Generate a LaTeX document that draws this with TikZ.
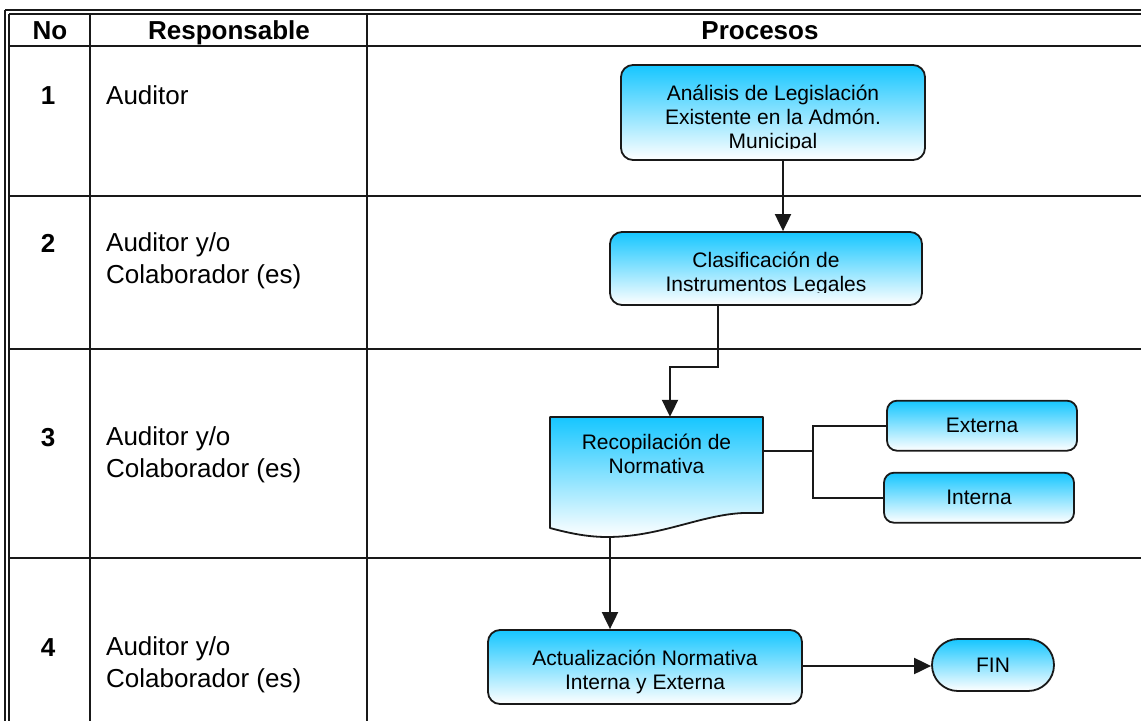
\documentclass[tikz,border=0pt]{standalone}
\usepackage{fontspec}
\setmainfont{Liberation Sans}
\usetikzlibrary{arrows.meta}

\definecolor{boxtop}{RGB}{22,198,255}
\definecolor{linegray}{RGB}{25,25,25}

\tikzset{
  gridline/.style={line width=1.6pt, draw=linegray},
  procbox/.style={draw=linegray, line width=1.8pt, rounded corners=12pt,
    top color=boxtop, bottom color=white, inner sep=0pt},
  docshape/.style={draw=linegray, line width=1.8pt, line join=round,
    top color=boxtop, bottom color=white},
  ptext/.style={font=\fontsize{21}{24}\selectfont, align=center, inner sep=0pt},
  headtext/.style={font=\fontsize{26}{32}\selectfont\bfseries, inner sep=0pt, anchor=base},
  numtext/.style={font=\fontsize{26}{32}\selectfont\bfseries, inner sep=0pt, anchor=base},
  resptext/.style={font=\fontsize{26}{32}\selectfont, align=left, inner sep=0pt},
  link/.style={line width=2pt, draw=linegray},
  arr/.style={link, -{Triangle[length=17pt,width=16pt]}},
}

\begin{document}
\begin{tikzpicture}[x=1pt,y=-1pt]
\useasboundingbox (0,0) rectangle (1141,721);

% ---- table frame ----
\draw[gridline, line width=2.4pt] (5,10) -- (1141,10);
\draw[gridline] (9,14) -- (1141,14);
\draw[gridline, line width=1.4pt] (5,10) -- (5,721);
\draw[gridline, line width=1.4pt] (9,14) -- (9,721);
\draw[gridline] (9,46) -- (1141,46);
\draw[gridline] (9,196) -- (1141,196);
\draw[gridline] (9,349) -- (1141,349);
\draw[gridline] (9,558) -- (1141,558);
\draw[gridline] (90,14) -- (90,721);
\draw[gridline] (367,14) -- (367,721);

% ---- header ----
\node[headtext] (h-no) at (50,39) {No};
\node[headtext] (h-resp) at (229,39) {Responsable};
\node[headtext] (h-proc) at (760,39) {Procesos};

% ---- row numbers and responsible ----
\node[numtext] (n1) at (48,104) {1};
\node[numtext] (n2) at (48,252) {2};
\node[numtext] (n3) at (48,446) {3};
\node[numtext] (n4) at (48,656) {4};
\node[resptext, anchor=base west] (r1) at (106,104) {Auditor};
\node[resptext, anchor=west] (r2) at (106,261) {Auditor y/o\\Colaborador (es)};
\node[resptext, anchor=west] (r3) at (106,455) {Auditor y/o\\Colaborador (es)};
\node[resptext, anchor=west] (r4) at (106,665) {Auditor y/o\\Colaborador (es)};

% ---- process boxes ----
\node[procbox, minimum width=304pt, minimum height=95pt] (analisis) at (773,112.5) {};
\begin{scope}
  \clip (621,65) rectangle (925,148);
  \node[ptext] (analisis-txt) at (773,119) {Análisis de Legislación\\Existente en la Admón.\\Municipal};
\end{scope}

\node[procbox, minimum width=312pt, minimum height=73pt] (clasif) at (766,268.5) {};
\begin{scope}
  \clip (610,232) rectangle (922,292.5);
  \node[ptext] (clasif-txt) at (766,274) {Clasificación de\\Instrumentos Legales};
\end{scope}

% document shape with wavy bottom
\path[docshape] (550,417) -- (763,417) -- (763,513) -- (743,513)
  .. controls (700,515) and (660,537) .. (607,537)
  .. controls (585,537) and (565,532) .. (550,528) -- cycle;
\node[minimum width=213pt, minimum height=68pt, inner sep=0pt] (recop) at (656.5,451) {};
\node[ptext] (recop-txt) at (656.5,454) {Recopilación de\\Normativa};

\node[procbox, rounded corners=10pt, minimum width=190pt, minimum height=50pt] (externa)
  at (982,425.7) {\fontsize{21}{24}\selectfont Externa};
\node[procbox, rounded corners=10pt, minimum width=190pt, minimum height=50pt] (interna)
  at (979,497.7) {\fontsize{21}{24}\selectfont Interna};

\node[procbox, minimum width=314pt, minimum height=74pt] (actual) at (645,667) {};
\node[ptext] (actual-txt) at (645,672) {Actualización Normativa\\Interna y Externa};

\node[procbox, rounded corners=26pt, minimum width=122pt, minimum height=52pt] (fin)
  at (993,665) {\fontsize{21}{24}\selectfont FIN};

% ---- connectors ----
\coordinate (a1) at (783,0);
\draw[arr] (analisis.south -| a1) -- (clasif.north -| a1);

\coordinate (j1) at (718,367);
\coordinate (j2) at (670,367);
\draw[arr] (clasif.south -| j1) -- (j1) -- (j2) -- (recop.north -| j2);

\coordinate (br) at (813,451);
\draw[link] (recop.east) -- (br);
\draw[link] (externa.west) -| (br) |- (interna.west);

\coordinate (docbot) at (610,536);
\draw[arr] (docbot) -- (actual.north -| docbot);

\coordinate (fa) at (0,666);
\draw[arr] (actual.east |- fa) -- (fin.west |- fa);
\end{tikzpicture}
\end{document}
